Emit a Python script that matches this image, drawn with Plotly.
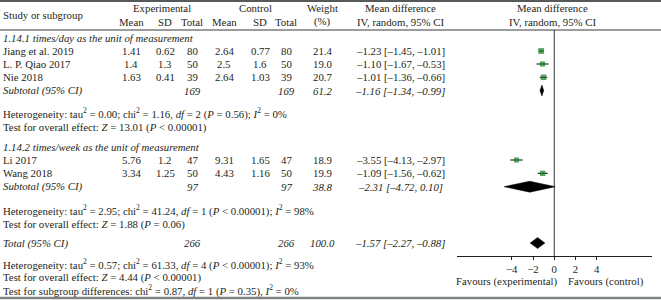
import plotly.graph_objects as go

# ---------------- data ----------------
studies = ["Jiang et al. 2019", "L. P. Qiao 2017", "Nie 2018", "Li 2017", "Wang 2018"]
exp_mean = [1.41, 1.4, 1.63, 5.76, 3.34]
exp_sd = [0.62, 1.3, 0.41, 1.2, 1.25]
exp_n = [80, 50, 39, 47, 50]
ctrl_mean = [2.64, 2.5, 2.64, 9.31, 4.43]
ctrl_sd = [0.77, 1.6, 1.03, 1.65, 1.16]
ctrl_n = [80, 50, 39, 47, 50]
weight = [21.4, 19.0, 20.7, 18.9, 19.9]
md = [-1.23, -1.10, -1.01, -3.55, -1.09]
md_lo = [-1.45, -1.67, -1.36, -4.13, -1.56]
md_hi = [-1.01, -0.53, -0.66, -2.97, -0.62]

group_labels = ["1.14.1 times/day as the unit of measurement",
                "1.14.2 times/week as the unit of measurement"]
sub_n_exp = [169, 97]
sub_n_ctrl = [169, 97]
sub_weight = [61.2, 38.8]
sub_md = [-1.16, -2.31]
sub_lo = [-1.34, -4.72]
sub_hi = [-0.99, 0.10]
sub_het = [
    "Heterogeneity: tau<sup>2</sup> = 0.00; chi<sup>2</sup> = 1.16, <i>df</i> = 2 (<i>P</i> = 0.56); <i>I</i><sup>2</sup> = 0%",
    "Heterogeneity: tau<sup>2</sup> = 2.95; chi<sup>2</sup> = 41.24, <i>df</i> = 1 (<i>P</i> &lt; 0.00001); <i>I</i><sup>2</sup> = 98%",
]
sub_test = [
    "Test for overall effect: <i>Z</i> = 13.01 (<i>P</i> &lt; 0.00001)",
    "Test for overall effect: <i>Z</i> = 1.88 (<i>P</i> = 0.06)",
]

tot_n_exp = 266
tot_n_ctrl = 266
tot_weight = 100.0
tot_md = -1.57
tot_lo = -2.27
tot_hi = -0.88
tot_notes = [
    "Heterogeneity: tau<sup>2</sup> = 0.57; chi<sup>2</sup> = 61.33, <i>df</i> = 4 (<i>P</i> &lt; 0.00001); <i>I</i><sup>2</sup> = 93%",
    "Test for overall effect: <i>Z</i> = 4.44 (<i>P</i> &lt; 0.00001)",
    "Test for subgroup differences: chi<sup>2</sup> = 0.87, <i>df</i> = 1 (<i>P</i> = 0.35), <i>I</i><sup>2</sup> = 0%",
]
tick_vals = [-4, -2, 0, 2, 4]

# ---------------- layout (pixel rows) ----------------
W, H = 661, 300
FONT = "Liberation Serif"
FS = 10.8
TXT = "#231f20"
GREEN = "#127a1f"
row_study = [51, 64, 77.3, 160, 173.3]
row_glabel = [38, 146.5]
row_sub = [90.5, 186.7]
row_het = [113.5, 210.5]
row_test = [127, 224]
row_total = 243
row_notes = [264, 277, 290]
col = dict(study=1, em=131, esd=165, en=192, cm=224, csd=260, cn=286, w=322, md=400)


def fmt(v):
    return f"{v:.2f}".replace("-", "\u2013")


def ci(m, lo, hi):
    return f"{fmt(m)} [{fmt(lo)}, {fmt(hi)}]"


ann = []


def A(text, x, y, anchor="center", italic=False):
    ann.append(dict(text=text, x=x / W, y=y, xref="paper", yref="y", xanchor=anchor,
                    yanchor="middle", showarrow=False,
                    font=dict(family=FONT, size=FS, color=TXT, style="italic" if italic else "normal")))


# header
A("Study or subgroup", col["study"], 14.5, "left")
A("Experimental", (col["em"] + col["en"]) / 2, 7.5)
A("Control", (col["cm"] + col["cn"]) / 2, 7.5)
A("Weight", col["w"], 7.5)
A("(%)", col["w"], 21.5)
for k, t in [("em", "Mean"), ("esd", "SD"), ("en", "Total"), ("cm", "Mean"), ("csd", "SD"), ("cn", "Total")]:
    A(t, col[k], 21.5)
A("Mean difference", col["md"], 7.5)
A("IV, random, 95% CI", col["md"], 21.5)
A("Mean difference", 552, 7.5)
A("IV, random, 95% CI", 552, 21.5)

for i, s in enumerate(studies):
    y = row_study[i]
    A(s, col["study"], y, "left")
    A(str(exp_mean[i]), col["em"], y)
    A(str(exp_sd[i]), col["esd"], y)
    A(str(exp_n[i]), col["en"], y)
    A(str(ctrl_mean[i]), col["cm"], y)
    A(str(ctrl_sd[i]), col["csd"], y)
    A(str(ctrl_n[i]), col["cn"], y)
    A(f"{weight[i]:.1f}", col["w"], y)
    A(ci(md[i], md_lo[i], md_hi[i]), col["md"], y)

for g in range(2):
    A(group_labels[g], col["study"], row_glabel[g], "left", italic=True)
    y = row_sub[g]
    A("Subtotal (95% CI)", col["study"], y, "left", italic=True)
    A(str(sub_n_exp[g]), col["en"], y, italic=True)
    A(str(sub_n_ctrl[g]), col["cn"], y, italic=True)
    A(f"{sub_weight[g]:.1f}", col["w"], y, italic=True)
    A(ci(sub_md[g], sub_lo[g], sub_hi[g]), col["md"], y, italic=True)
    A(sub_het[g], col["study"], row_het[g], "left")
    A(sub_test[g], col["study"], row_test[g], "left")

A("Total (95% CI)", col["study"], row_total, "left", italic=True)
A(str(tot_n_exp), col["en"], row_total, italic=True)
A(str(tot_n_ctrl), col["cn"], row_total, italic=True)
A(f"{tot_weight:.1f}", col["w"], row_total, italic=True)
A(ci(tot_md, tot_lo, tot_hi), col["md"], row_total, italic=True)
for t, y in zip(tot_notes, row_notes):
    A(t, col["study"], y, "left")

A("Favours (experimental)", 559, 281, "right")
A("Favours (control)", 566, 281, "left")

fig = go.Figure()

# CI lines for studies
for i in range(len(studies)):
    fig.add_trace(go.Scatter(x=[md_lo[i], md_hi[i]], y=[row_study[i], row_study[i]], mode="lines",
                             line=dict(color="black", width=1), hoverinfo="skip", showlegend=False))
# squares
fig.add_trace(go.Scatter(x=md, y=row_study, mode="markers",
                         marker=dict(symbol="square", color=GREEN, size=[w * 0.27 for w in weight],
                                     line=dict(width=0)),
                         showlegend=False))

# diamonds
h = 5.5
diamonds = [(sub_md[0], sub_lo[0], sub_hi[0], row_sub[0]),
            (sub_md[1], sub_lo[1], sub_hi[1], row_sub[1]),
            (tot_md, tot_lo, tot_hi, row_total)]
for m, lo, hi, y in diamonds:
    fig.add_trace(go.Scatter(x=[lo, m, hi, m, lo], y=[y, y - h, y, y + h, y], mode="lines",
                             fill="toself", fillcolor="black", line=dict(color="black", width=0.5),
                             hoverinfo="skip", showlegend=False))

shapes = [
    dict(type="line", xref="paper", yref="y", x0=0, x1=1, y0=1, y1=1, line=dict(color="#58595b", width=2)),
    dict(type="line", xref="paper", yref="y", x0=0, x1=1, y0=30, y1=30, line=dict(color="#3a3a3a", width=1)),
    dict(type="line", xref="paper", yref="y", x0=0, x1=1, y0=298, y1=298, line=dict(color="#808285", width=2.5)),
    dict(type="line", xref="x", yref="y", x0=0, x1=0, y0=30, y1=256, line=dict(color="#333333", width=1)),
]

fig.update_layout(
    width=W, height=H, margin=dict(l=0, r=0, t=0, b=0),
    paper_bgcolor="white", plot_bgcolor="white",
    annotations=ann, shapes=shapes,
    xaxis=dict(domain=[456.5 / W, 652 / W], range=[-9.2, 9.2], anchor="free", position=(H - 256) / H,
               showline=True, linecolor="#231f20", linewidth=1, ticks="outside", ticklen=3,
               tickcolor="#231f20", tickvals=tick_vals, showgrid=False, zeroline=False,
               tickfont=dict(family=FONT, size=FS, color=TXT), fixedrange=True),
    yaxis=dict(domain=[0, 1], range=[H, 0], visible=False, fixedrange=True),
    showlegend=False,
)

fig.write_html("out.html", config={"displayModeBar": False},
               post_script="document.body.style.margin='0';document.body.style.overflow='hidden';")
